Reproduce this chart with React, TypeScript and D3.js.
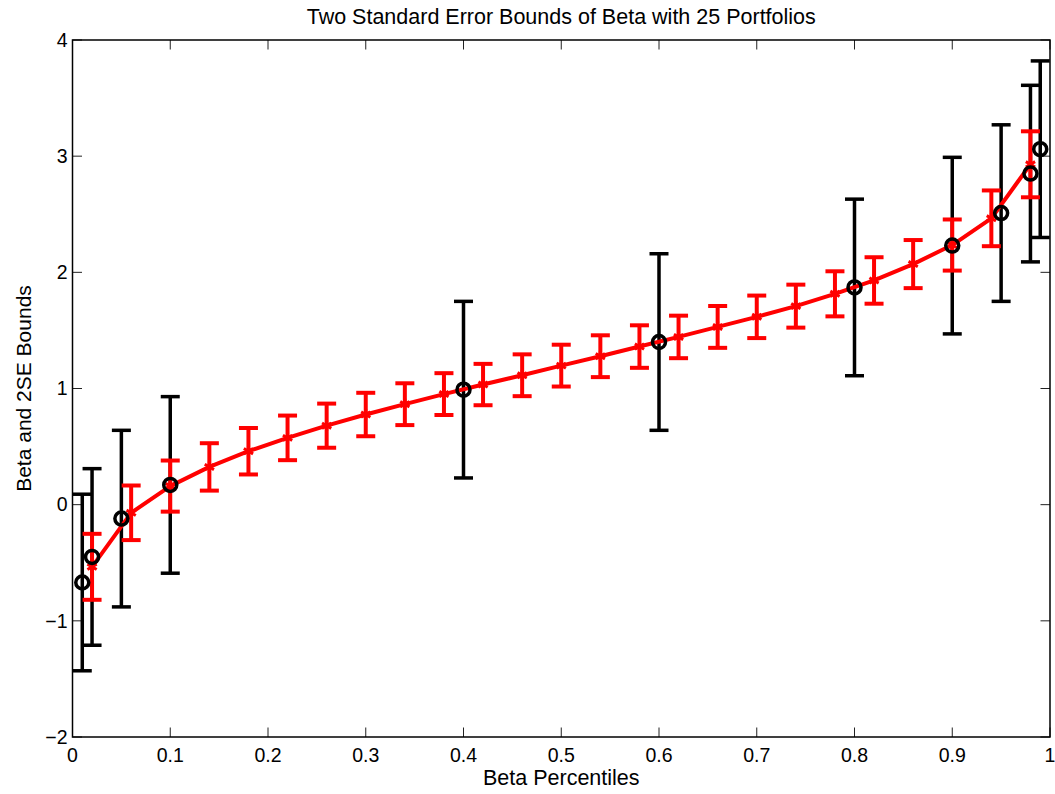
import React from 'react';
import * as d3 from 'd3';

// black: selected percentiles, wide 2SE bounds
const blackX = [0.01, 0.02, 0.05, 0.1, 0.4, 0.6, 0.8, 0.9, 0.95, 0.98, 0.99];
const blackBeta = [-0.67, -0.45, -0.12, 0.17, 0.99, 1.40, 1.87, 2.23, 2.51, 2.85, 3.06];
const blackSE2 = [0.76, 0.76, 0.76, 0.76, 0.76, 0.76, 0.76, 0.76, 0.76, 0.76, 0.76];

// red: 25 portfolios
const redX = [0.02, 0.06, 0.10, 0.14, 0.18, 0.22, 0.26, 0.30, 0.34, 0.38, 0.42, 0.46, 0.50,
  0.54, 0.58, 0.62, 0.66, 0.70, 0.74, 0.78, 0.82, 0.86, 0.90, 0.94, 0.98];
const redBeta = [-0.535, -0.07, 0.16, 0.325, 0.46, 0.575, 0.68, 0.776, 0.865, 0.952, 1.034, 1.114, 1.197,
  1.278, 1.361, 1.444, 1.530, 1.617, 1.709, 1.815, 1.930, 2.071, 2.235, 2.465, 2.93];
const redSE2 = [0.284, 0.235, 0.22, 0.204, 0.2, 0.192, 0.19, 0.187, 0.18, 0.18, 0.178, 0.18, 0.18,
  0.18, 0.183, 0.183, 0.18, 0.183, 0.185, 0.194, 0.2, 0.207, 0.22, 0.24, 0.284];

const xTicks = [0, 0.1, 0.2, 0.3, 0.4, 0.5, 0.6, 0.7, 0.8, 0.9, 1];
const xTickLabels = ['0', '0.1', '0.2', '0.3', '0.4', '0.5', '0.6', '0.7', '0.8', '0.9', '1'];
const yTicks = [-2, -1, 0, 1, 2, 3, 4];
const yTickLabels = ['\u22122', '\u22121', '0', '1', '2', '3', '4'];

const W = 1055;
const H = 794;
const left = 72.5, right = 1050, top = 40, bottom = 737;
const font = '"Liberation Sans", Arial, Helvetica, sans-serif';
const cap = 9.5;
const tickLen = 9.5;

const App = () => {
  const x = d3.scaleLinear().domain([0, 1]).range([left, right]);
  const y = d3.scaleLinear().domain([-2, 4]).range([bottom, top]);

  const line = d3.line<number>()
    .x((d, i) => x(redX[i]))
    .y((d) => y(d));

  const star = d3.symbol().type(d3.symbolAsterisk).size(80)();

  const bar = (xv, yv, se, color, w, key) => {
    const cx = x(xv);
    const y1 = y(yv + se);
    const y2 = y(yv - se);
    return (
      <g key={key} stroke={color} strokeWidth={w} fill="none">
        <line x1={cx} x2={cx} y1={y1} y2={y2} />
        <line x1={cx - cap} x2={cx + cap} y1={y1} y2={y1} />
        <line x1={cx - cap} x2={cx + cap} y1={y2} y2={y2} />
      </g>
    );
  };

  return (
    <svg width={W} height={H} style={{ position: 'absolute', left: 0, top: 0, background: '#fff' }}
      fontFamily={font}>
      <rect x={0} y={0} width={W} height={H} fill="#fff" />

      {/* ticks */}
      {xTicks.map((t, i) => (
        <g key={'xt' + i} stroke="#222" strokeWidth={1}>
          <line x1={x(t)} x2={x(t)} y1={bottom} y2={bottom - tickLen} />
          <line x1={x(t)} x2={x(t)} y1={top} y2={top + tickLen} />
        </g>
      ))}
      {yTicks.map((t, i) => (
        <g key={'yt' + i} stroke="#222" strokeWidth={1}>
          <line x1={left} x2={left + tickLen} y1={y(t)} y2={y(t)} />
          <line x1={right} x2={right - tickLen} y1={y(t)} y2={y(t)} />
        </g>
      ))}

      {/* black error bars */}
      {blackX.map((xv, i) => bar(xv, blackBeta[i], blackSE2[i], '#000', 3.5, 'kb' + i))}

      {/* red line, error bars, markers */}
      <path d={line(redBeta)} fill="none" stroke="#ff0000" strokeWidth={4} strokeLinejoin="round" />
      {redX.map((xv, i) => bar(xv, redBeta[i], redSE2[i], '#ff0000', 4, 'rb' + i))}
      {redX.map((xv, i) => (
        <path key={'rm' + i} d={star} transform={`translate(${x(xv)},${y(redBeta[i])})`}
          fill="none" stroke="#ff0000" strokeWidth={3} />
      ))}

      {/* black circles */}
      {blackX.map((xv, i) => (
        <circle key={'kc' + i} cx={x(xv)} cy={y(blackBeta[i])} r={6.5}
          fill="none" stroke="#000" strokeWidth={3.5} />
      ))}

      {/* box */}
      <rect x={left} y={top} width={right - left} height={bottom - top}
        fill="none" stroke="#000" strokeWidth={1.5} />

      {/* tick labels */}
      {xTicks.map((t, i) => (
        <text key={'xl' + i} x={x(t)} y={762} fontSize={19.5} textAnchor="middle">{xTickLabels[i]}</text>
      ))}
      {yTicks.map((t, i) => (
        <text key={'yl' + i} x={left - 5} y={y(t)} dy="0.35em" fontSize={19.5} textAnchor="end">{yTickLabels[i]}</text>
      ))}

      <text x={(left + right) / 2} y={24} fontSize={21.5} textAnchor="middle">
        Two Standard Error Bounds of Beta with 25 Portfolios
      </text>
      <text x={(left + right) / 2} y={785} fontSize={21.5} textAnchor="middle">Beta Percentiles</text>
      <text transform={`translate(31,${(top + bottom) / 2}) rotate(-90)`} fontSize={21} textAnchor="middle">
        Beta and 2SE Bounds
      </text>
    </svg>
  );
};

export default App;
